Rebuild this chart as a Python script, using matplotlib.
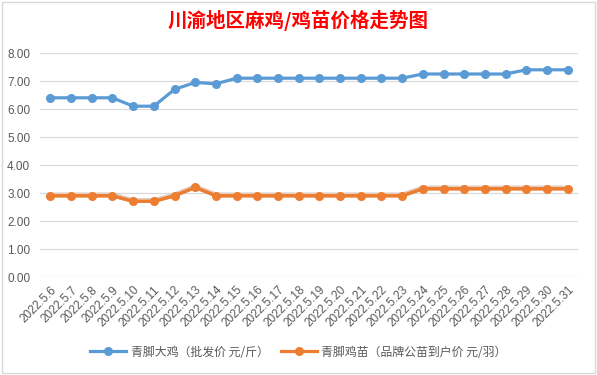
import matplotlib
matplotlib.use("Agg")
import matplotlib.pyplot as plt
import matplotlib.patheffects as pe

plt.rcParams['font.family'] = ['Noto Sans CJK SC', 'DejaVu Sans']

dates = ["2022.5.6", "2022.5.7", "2022.5.8", "2022.5.9", "2022.5.10", "2022.5.11",
         "2022.5.12", "2022.5.13", "2022.5.14", "2022.5.15", "2022.5.16", "2022.5.17",
         "2022.5.18", "2022.5.19", "2022.5.20", "2022.5.21", "2022.5.22", "2022.5.23",
         "2022.5.24", "2022.5.25", "2022.5.26", "2022.5.27", "2022.5.28", "2022.5.29",
         "2022.5.30", "2022.5.31"]
chicken = [6.4, 6.4, 6.4, 6.4, 6.1, 6.1, 6.7, 6.95, 6.9, 7.1, 7.1, 7.1, 7.1, 7.1,
           7.1, 7.1, 7.1, 7.1, 7.25, 7.25, 7.25, 7.25, 7.25, 7.4, 7.4, 7.4]
chick = [2.9, 2.9, 2.9, 2.9, 2.7, 2.7, 2.9, 3.2, 2.9, 2.9, 2.9, 2.9, 2.9, 2.9,
         2.9, 2.9, 2.9, 2.9, 3.15, 3.15, 3.15, 3.15, 3.15, 3.15, 3.15, 3.15]
series_names = ["青脚大鸡（批发价 元/斤）", "青脚鸡苗（品牌公苗到户价 元/羽）"]
yticks = [0, 1, 2, 3, 4, 5, 6, 7, 8]
title = "川渝地区麻鸡/鸡苗价格走势图"

fig = plt.figure(figsize=(5.97, 3.75), dpi=100)
fig.patch.set_facecolor('white')
ax = fig.add_axes([40/597, 1-277/375, (578-40)/597, (277-53)/375])

x = list(range(len(dates)))
blue = '#5b9bd5'
orange = '#ed7d31'
ax.plot(x, chicken, color=blue, lw=2.3, marker='o', ms=5.5, label=series_names[0], zorder=3)
# orange line with subtle shadow on the line only
ax.plot(x, chick, color=orange, lw=2.3, zorder=3,
        path_effects=[pe.SimpleLineShadow(offset=(0, 0.8), shadow_color='#e2cfc2',
                                          alpha=1.0, linewidth=3.2), pe.Normal()])
ax.plot(x, chick, color=orange, lw=2.3, marker='o', ms=5.5, label=series_names[1], zorder=4)

ax.set_xlim(-0.5, len(dates) - 0.5)
ax.set_ylim(0, 8)
ax.set_yticks(yticks)
ax.set_yticklabels([f"{v:.2f}" for v in yticks], fontsize=8.5, color='#595959',
                   family=['Liberation Sans', 'DejaVu Sans'])
ax.set_xticks(x)
ax.set_xticklabels(dates, rotation=45, ha='right', rotation_mode='anchor', fontsize=8.5,
                   color='#595959', family=['Liberation Sans', 'DejaVu Sans'])
ax.tick_params(axis='y', length=0, pad=7)
ax.tick_params(axis='x', length=0, pad=5)
ax.grid(axis='y', color='#d9d9d9', lw=0.9)
for s in ax.spines.values():
    s.set_visible(False)
ax.set_axisbelow(True)

fig.text(0.5, 1-20/375, title, ha='center', va='center', color='#ff0000',
         fontsize=14, fontweight='bold')

handles, labels = ax.get_legend_handles_labels()
leg = fig.legend(handles, labels, loc='center', bbox_to_anchor=(0.5, 1-352/375), ncol=2,
                 frameon=False, fontsize=8.6, handlelength=3.0, columnspacing=1.0,
                 handletextpad=0.4, labelcolor='#595959')

border = plt.Rectangle((2/597, 2/375), 1-4/597, 1-4/375, transform=fig.transFigure,
                       fill=False, edgecolor='#d9d9d9', lw=1)
fig.patches.append(border)

fig.savefig('out.png', dpi=100)
